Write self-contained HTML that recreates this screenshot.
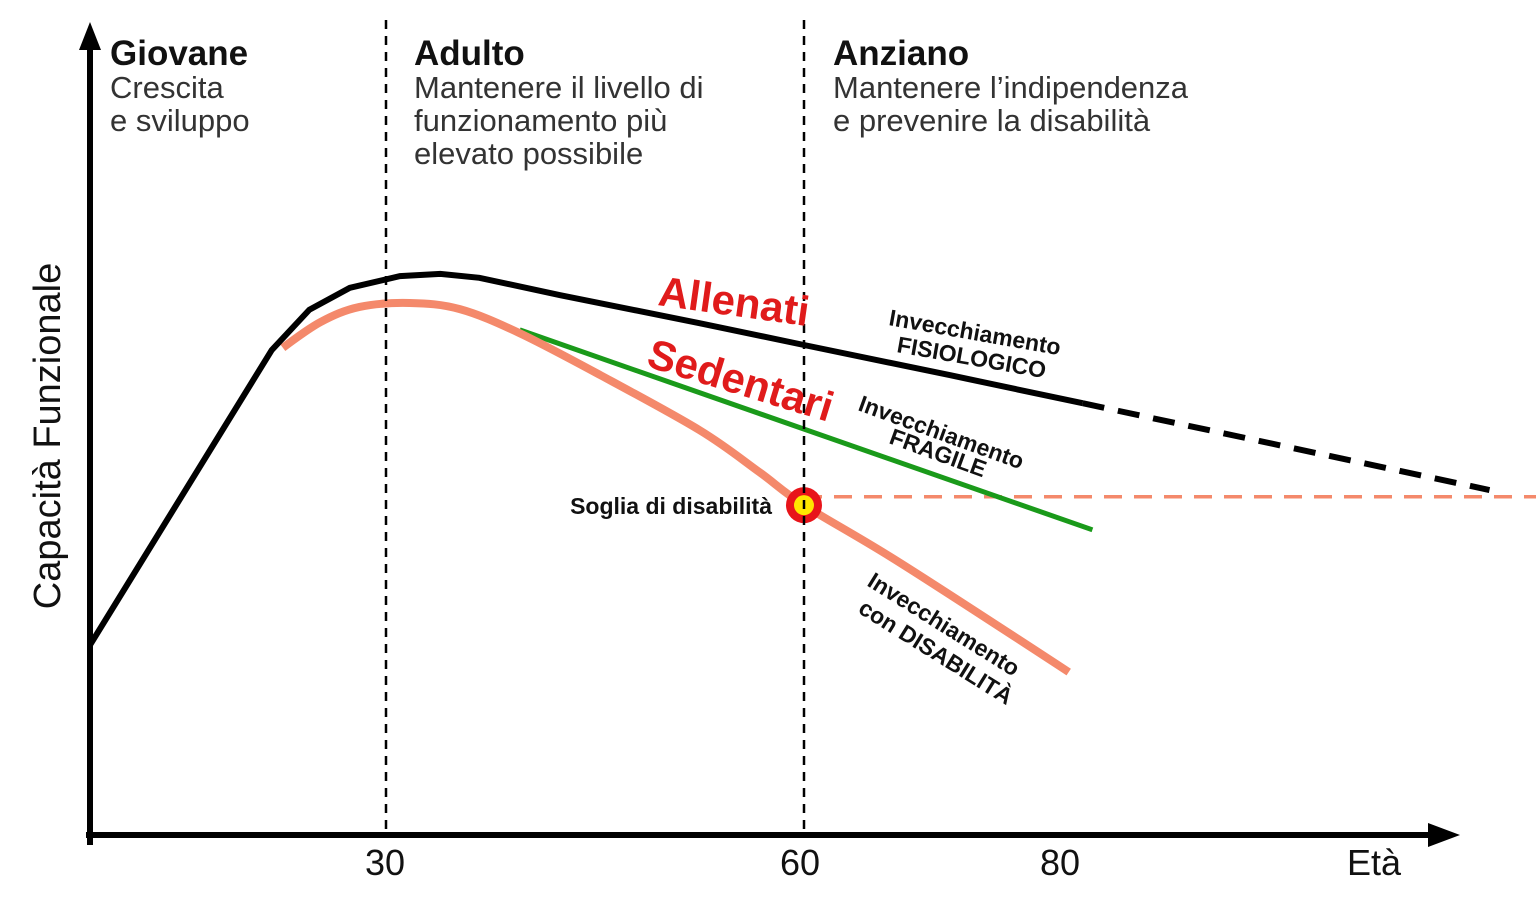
<!DOCTYPE html>
<html><head><meta charset="utf-8"><style>
html,body{margin:0;padding:0;background:#fff;}
svg{display:block;font-family:"Liberation Sans",sans-serif;}
</style></head><body>
<svg id="chart" width="1536" height="901" viewBox="0 0 1536 901">
<g id="marks"></g>
<g>
<line x1="90" y1="40" x2="90" y2="845" stroke="#000" stroke-width="6"/>
<polygon points="90,22 79,50 101,50" fill="#000"/>
<line x1="86" y1="835" x2="1435" y2="835" stroke="#000" stroke-width="6"/>
<polygon points="1460,835 1428,823 1428,847" fill="#000"/>
<line x1="386" y1="20" x2="386" y2="835" stroke="#000" stroke-width="2.5" stroke-dasharray="9,7"/>
<line x1="804" y1="20" x2="804" y2="835" stroke="#000" stroke-width="2.5" stroke-dasharray="9,7"/>
</g>
<g font-size="36" fill="#111" text-anchor="middle">
<text x="385" y="875">30</text>
<text x="800" y="875">60</text>
<text x="1060" y="875">80</text>
<text x="1374" y="875">Età</text>
</g>
<text transform="translate(60,436) rotate(-90)" text-anchor="middle" font-size="38" fill="#111">Capacità Funzionale</text>
<g fill="#111">
<text x="110" y="65" font-size="35" font-weight="bold">Giovane</text>
<text x="110" y="98" font-size="31" fill="#333">Crescita</text>
<text x="110" y="131" font-size="31" fill="#333">e sviluppo</text>
<text x="414" y="65" font-size="35" font-weight="bold">Adulto</text>
<text x="414" y="98" font-size="31" fill="#333">Mantenere il livello di</text>
<text x="414" y="131" font-size="31" fill="#333">funzionamento più</text>
<text x="414" y="164" font-size="31" fill="#333">elevato possibile</text>
<text x="833" y="65" font-size="35" font-weight="bold">Anziano</text>
<text x="833" y="98" font-size="31" fill="#333">Mantenere l’indipendenza</text>
<text x="833" y="131" font-size="31" fill="#333">e prevenire la disabilità</text>
</g>
<g font-weight="bold">
<text transform="translate(657,305) rotate(8)" font-size="42" fill="#e01b1b">Allenati</text>
<text transform="translate(645,366) rotate(17)" font-size="42" fill="#e01b1b">Sedentari</text>
<text transform="translate(888,325) rotate(10)" font-size="23" fill="#111">Invecchiamento</text>
<text transform="translate(896,352) rotate(10)" font-size="23" fill="#111">FISIOLOGICO</text>
<text transform="translate(857,410) rotate(20)" font-size="23" fill="#111">Invecchiamento</text>
<text transform="translate(888,443) rotate(20)" font-size="23" fill="#111">FRAGILE</text>
<text transform="translate(866,585) rotate(32)" font-size="23" fill="#111">Invecchiamento</text>
<text transform="translate(857,612) rotate(32)" font-size="23" fill="#111">con DISABILITÀ</text>
<text x="772" y="514" text-anchor="end" font-size="23" fill="#111">Soglia di disabilità</text>
</g>
</svg>
<script>
const allenatiAge=[8.75,21.8,24.5,27.4,31.0,33.9,36.7,42.5,52.5,60,70.5,80];
const allenatiCap=[33.9,86.6,93.8,97.7,99.8,100.2,99.5,96.4,91.4,87.5,82.1,77.1];
const projectionAge=[80,109.2];
const projectionCap=[77.1,61.6];
const sedentariAge=[22.6,25.3,28.1,31.7,35.3,39.6,45.4,52.5,56.8,60,66.9,79.0];
const sedentariCap=[87.0,91.6,94.3,95.0,93.9,89.6,82.1,72.3,64.8,58.9,48.6,29.1];
const fragileAge=[39.6,80.7];
const fragileCap=[90.2,54.5];
const thresholdCap=[60.4];
const thresholdAge=[60,117];
const markerAge=[60];
const markerCap=[58.9];

const xs=a=>386+(a-30)*13.933;
const ys=c=>835-c*5.6;
const NS="http://www.w3.org/2000/svg";
const g=document.getElementById('marks');
function path(ages,caps,stroke,w,dash,name,smooth){
  const p=document.createElementNS(NS,'path');
  const pts=ages.map((a,i)=>[xs(a),ys(caps[i])]);
  let d='M'+pts[0][0]+','+pts[0][1];
  if(smooth&&pts.length>2){
    for(let i=0;i<pts.length-1;i++){
      const p0=pts[Math.max(0,i-1)],p1=pts[i],p2=pts[i+1],p3=pts[Math.min(pts.length-1,i+2)];
      const t=(i===0)?0:1/6, t2=(i+1===pts.length-1)?0:1/6;
      d+=' C'+(p1[0]+(p2[0]-p0[0])*t)+','+(p1[1]+(p2[1]-p0[1])*t)+' '+(p2[0]-(p3[0]-p1[0])*t2)+','+(p2[1]-(p3[1]-p1[1])*t2)+' '+p2[0]+','+p2[1];
    }
  } else pts.slice(1).forEach(q=>d+=' L'+q[0]+','+q[1]);
  p.setAttribute('d',d);p.setAttribute('fill','none');p.setAttribute('stroke',stroke);
  p.setAttribute('stroke-width',w);if(dash)p.setAttribute('stroke-dasharray',dash);
  
  
  g.appendChild(p);
}
path(thresholdAge,[thresholdCap[0],thresholdCap[0]],'#f4896b',3.5,'18,12','disability-threshold-line',false);
path(fragileAge,fragileCap,'#1a9a1a',5,null,'fragile-line',false);
path(sedentariAge,sedentariCap,'#f4896b',8,null,'sedentari-line',true);
path(allenatiAge,allenatiCap,'#000',6,null,'allenati-line',false);
path(projectionAge,projectionCap,'#000',6,'22,14','physiological-projection',false);
const c1=document.createElementNS(NS,'circle');
c1.setAttribute('cx',xs(markerAge[0]));c1.setAttribute('cy',ys(markerCap[0]));c1.setAttribute('r',18);c1.setAttribute('fill','#e8141a');


g.appendChild(c1);
const c2=document.createElementNS(NS,'circle');
c2.setAttribute('cx',xs(markerAge[0]));c2.setAttribute('cy',ys(markerCap[0]));c2.setAttribute('r',10);c2.setAttribute('fill','#ffe600');


g.appendChild(c2);
</script>
</body></html>
